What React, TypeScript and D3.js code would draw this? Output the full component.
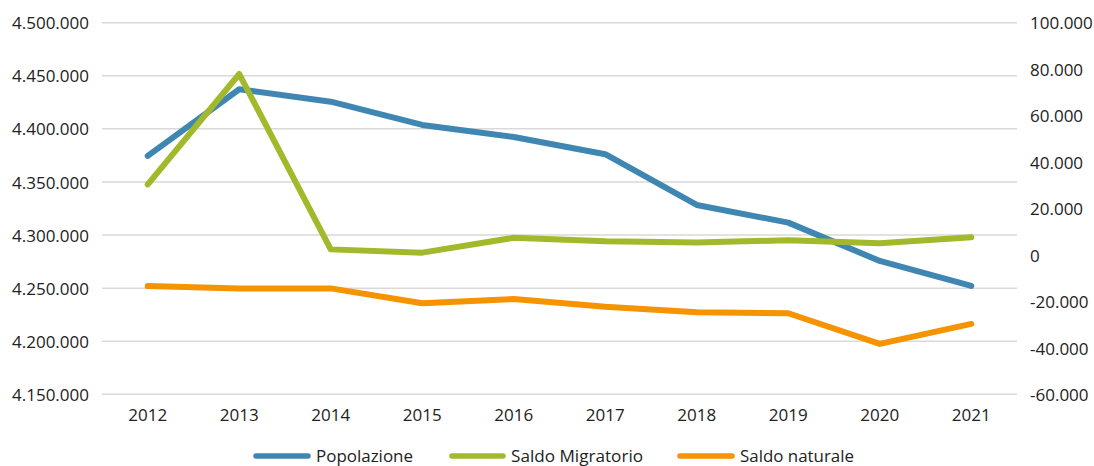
import React from "react";
import * as d3 from "d3";

const years = ["2012", "2013", "2014", "2015", "2016", "2017", "2018", "2019", "2020", "2021"];
const popolazione = [4374500, 4437300, 4425600, 4403700, 4392400, 4376100, 4328300, 4311700, 4275600, 4252100];
const saldoMigratorio = [30400, 77900, 2400, 1000, 7400, 5900, 5400, 6300, 5000, 7600];
const saldoNaturale = [-13400, -14400, -14400, -20800, -19000, -22300, -24700, -25100, -38300, -29700];
const leftTicks = [4150000, 4200000, 4250000, 4300000, 4350000, 4400000, 4450000, 4500000];
const rightTicks = [-60000, -40000, -20000, 0, 20000, 40000, 60000, 80000, 100000];
const seriesNames = ["Popolazione", "Saldo Migratorio", "Saldo naturale"];
const colors = ["#3f87b2", "#a2b92b", "#f59300"];

const W = 1094;
const H = 466;
const plotLeft = 102;
const plotRight = 1017;
const plotTop = 22.7;
const plotBottom = 394.3;
const FONT = "'Open Sans', 'Noto Sans', sans-serif";

const fmt = (v: number) => {
  const s = Math.abs(v).toString().replace(/\B(?=(\d{3})+(?!\d))/g, ".");
  return (v < 0 ? "-" : "") + s;
};

export default function App() {
  const x = d3.scaleBand<string>().domain(years).range([plotLeft, plotRight]);
  const cx = (y: string) => (x(y) as number) + x.bandwidth() / 2;
  const yL = d3.scaleLinear().domain([4150000, 4500000]).range([plotBottom, plotTop]);
  const yR = d3.scaleLinear().domain([-60000, 100000]).range([plotBottom, plotTop]);

  const lineL = d3.line<number>().x((_, i) => cx(years[i])).y((d) => yL(d));
  const lineR = d3.line<number>().x((_, i) => cx(years[i])).y((d) => yR(d));

  const legendItems = [
    { name: seriesNames[0], color: colors[0], x1: 256, x2: 308, tx: 316, tw: 97 },
    { name: seriesNames[1], color: colors[1], x1: 452, x2: 503, tx: 511, tw: 132 },
    { name: seriesNames[2], color: colors[2], x1: 680, x2: 732, tx: 740, tw: 114 },
  ];

  return (
    <svg
      width={W}
      height={H}
      style={{ position: "absolute", left: 0, top: 0, background: "#fff" }}
      fontFamily={FONT}
    >
      <rect width={W} height={H} fill="#fff" />
      {leftTicks.map((t) => (
        <line key={t} x1={plotLeft} x2={plotRight} y1={yL(t)} y2={yL(t)} stroke="#d9d9d9" strokeWidth={1.5} />
      ))}
      {leftTicks.map((t) => (
        <text key={"l" + t} x={89} y={yL(t) + 2} textAnchor="end" dominantBaseline="middle" fontSize={17} fill="#222">
          {fmt(t)}
        </text>
      ))}
      {rightTicks.map((t) => (
        <text key={"r" + t} x={1030} y={yR(t) + 2.2} textAnchor="start" dominantBaseline="middle" fontSize={17} fill="#222">
          {fmt(t)}
        </text>
      ))}
      {years.map((y) => (
        <text key={y} x={cx(y)} y={416} textAnchor="middle" dominantBaseline="middle" fontSize={17} fill="#222">
          {y}
        </text>
      ))}
      <path d={lineL(popolazione) || ""} fill="none" stroke={colors[0]} strokeWidth={6} strokeLinecap="round" strokeLinejoin="round" />
      <path d={lineR(saldoMigratorio) || ""} fill="none" stroke={colors[1]} strokeWidth={6} strokeLinecap="round" strokeLinejoin="round" />
      <path d={lineR(saldoNaturale) || ""} fill="none" stroke={colors[2]} strokeWidth={6} strokeLinecap="round" strokeLinejoin="round" />
      {legendItems.map((l) => (
        <g key={l.name}>
          <line x1={l.x1} x2={l.x2} y1={456} y2={456} stroke={l.color} strokeWidth={5.5} strokeLinecap="round" />
          <text x={l.tx} y={462} fontSize={17} fill="#222" textLength={l.tw} lengthAdjust="spacingAndGlyphs">
            {l.name}
          </text>
        </g>
      ))}
    </svg>
  );
}
